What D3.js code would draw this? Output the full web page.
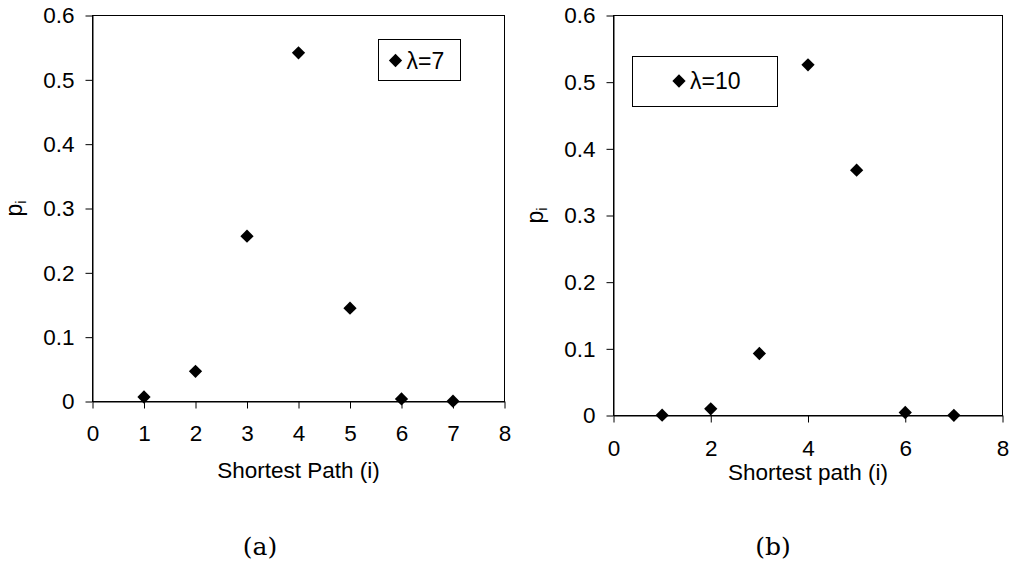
<!DOCTYPE html>
<html>
<head>
<meta charset="utf-8">
<script src="https://cdn.jsdelivr.net/npm/d3@7"></script>
<style>
  html, body { margin: 0; padding: 0; background: #fff; }
  svg text { font-family: "Liberation Sans", Arial, sans-serif; fill: #000; }
</style>
</head>
<body>
<svg id="chart" width="1011" height="562"></svg>
<script>
// shortest path length i
const hops = [1, 2, 3, 4, 5, 6, 7];
// p_i
const pLambda7 = [0.007, 0.047, 0.257, 0.542, 0.145, 0.004, 0.0005];
const pLambda10 = [0.0005, 0.010, 0.093, 0.526, 0.368, 0.0045, 0.0003];

const yTicks = [0, 0.1, 0.2, 0.3, 0.4, 0.5, 0.6];
const xTicksA = [0, 1, 2, 3, 4, 5, 6, 7, 8];
const xTicksB = [0, 2, 4, 6, 8];

const svg = d3.select("#chart");

const panels = [
  {
    values: pLambda7, xTicks: xTicksA, legend: "λ=7", caption: "(a)",
    xTitle: "Shortest Path (i)", titleY: 478,
    left: 92.5, right: 504.5, top: 15.5, bottom: 401.5, xPad: 17,
    legendBox: [378.5, 39.5, 82, 41], legendMark: [395.5, 60.5],
    yTitleX: 15, captionX: 260
  },
  {
    values: pLambda10, xTicks: xTicksB, legend: "λ=10", caption: "(b)",
    xTitle: "Shortest path (i)", titleY: 480,
    left: 613.5, right: 1002.5, top: 15.5, bottom: 415.5, xPad: 18,
    legendBox: [632.5, 56.5, 145, 50], legendMark: [679, 81],
    yTitleX: 536, captionX: 773
  }
];

const diamond = d3.symbol().type(d3.symbolSquare).size(88);

panels.forEach(p => {
  const x = d3.scaleLinear().domain([0, 8]).range([p.left, p.right]);
  const y = d3.scaleLinear().domain([0, 0.6]).range([p.bottom, p.top]);

  // plot frame
  svg.append("rect")
    .attr("x", p.left).attr("y", p.top)
    .attr("width", p.right - p.left).attr("height", p.bottom - p.top)
    .attr("fill", "none").attr("stroke", "#000").attr("stroke-width", 1);

  // y axis
  const gy = svg.append("g")
    .attr("transform", "translate(" + p.left + ",0)")
    .call(d3.axisLeft(y).tickValues(yTicks).tickFormat(d => String(d))
      .tickSize(7).tickSizeOuter(0).tickPadding(11));
  gy.selectAll("text").style("font-size", "22.5px");

  // x axis
  const gx = svg.append("g")
    .attr("transform", "translate(0," + p.bottom + ")")
    .call(d3.axisBottom(x).tickValues(p.xTicks).tickFormat(d => String(d))
      .tickSize(7).tickSizeOuter(0).tickPadding(p.xPad));
  gx.selectAll("text").style("font-size", "22.5px");
  svg.selectAll(".domain").attr("stroke", "#000");

  // points
  svg.append("g").selectAll("path")
    .data(hops.map((h, i) => ({ h, v: p.values[i] })))
    .enter()
    .append("path")
    .attr("d", diamond)
    .attr("transform", d => "translate(" + x(d.h) + "," + y(d.v) + ") rotate(45)")
    .attr("fill", "#000");

  // legend
  const [bx, by, bw, bh] = p.legendBox;
  svg.append("rect")
    .attr("x", bx).attr("y", by).attr("width", bw).attr("height", bh)
    .attr("fill", "#fff").attr("stroke", "#000").attr("stroke-width", 1);
  svg.append("path")
    .attr("d", diamond)
    .attr("transform", "translate(" + p.legendMark[0] + "," + p.legendMark[1] + ") rotate(45)")
    .attr("fill", "#000");
  svg.append("text")
    .attr("x", p.legendMark[0] + 11).attr("y", p.legendMark[1] + 8)
    .style("font-size", "23px")
    .text(p.legend);

  // axis titles
  svg.append("text")
    .attr("x", (p.left + p.right) / 2).attr("y", p.titleY)
    .attr("text-anchor", "middle")
    .style("font-size", "22.5px")
    .text(p.xTitle);

  const yt = svg.append("text")
    .attr("transform", "translate(" + (p.yTitleX + 7) + "," + y(0.3) + ") rotate(-90)")
    .attr("text-anchor", "middle")
    .style("font-size", "23px");
  yt.append("tspan").text("p");
  yt.append("tspan").attr("dy", 4).style("font-size", "14px").text("i");

  // panel caption
  svg.append("text")
    .attr("x", p.captionX).attr("y", 555)
    .attr("text-anchor", "middle")
    .style("font-family", "'DejaVu Serif', 'Liberation Serif', serif")
    .style("font-size", "25px")
    .text(p.caption);
});
</script>
</body>
</html>
